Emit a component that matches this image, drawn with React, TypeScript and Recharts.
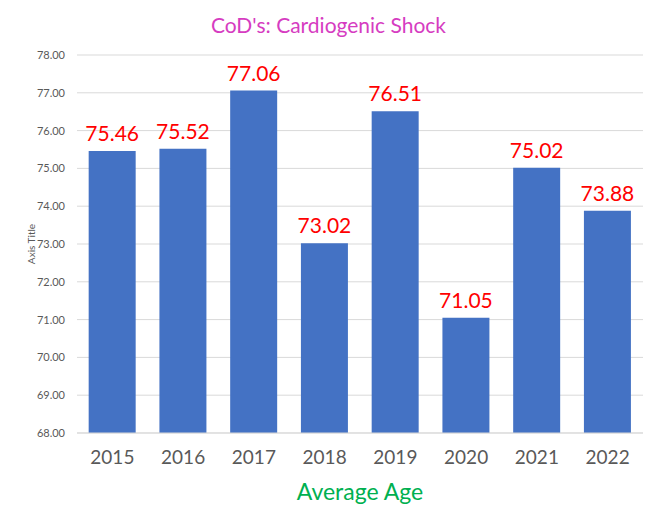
import React from "react";
import { BarChart, Bar, XAxis, YAxis, CartesianGrid, LabelList, Label } from "recharts";

// values
const years = ["2015", "2016", "2017", "2018", "2019", "2020", "2021", "2022"];
const avgAge = [75.46, 75.52, 77.06, 73.02, 76.51, 71.05, 75.02, 73.88];
const yTicks = [68, 69, 70, 71, 72, 73, 74, 75, 76, 77, 78];

const data = years.map((year, i) => ({ year, value: avgAge[i] }));

const FONT = "Lato, 'Noto Sans', sans-serif";
const GREY = "#595959";

const App: React.FC = () => {
    return (
        <div
            style={{
                margin: -8,
                width: 657,
                height: 526,
                boxSizing: "border-box",
                border: "1px solid #d9d9d9",
                position: "relative",
                background: "#fff",
                fontFamily: FONT,
            }}
        >
            <div
                style={{
                    position: "absolute",
                    top: 11,
                    left: 0,
                    width: "100%",
                    textAlign: "center",
                    fontSize: 21,
                    lineHeight: "26px",
                    color: "#D63CC1",
                }}
            >
                CoD's: Cardiogenic Shock
            </div>

            <BarChart
                width={655}
                height={524}
                data={data}
                margin={{ top: 54, right: 13, bottom: 0, left: 0 }}
                barCategoryGap="16.5%"
            >
                <CartesianGrid vertical={false} stroke="#d9d9d9" />
                <XAxis
                    dataKey="year"
                    height={92}
                    axisLine={{ stroke: "#d9d9d9" }}
                    tickLine={false}
                    tickMargin={12}
                    tick={{ fill: GREY, fontSize: 19, fontFamily: FONT }}
                >
                    <Label
                        content={({ viewBox }: any) => (
                            <text
                                x={viewBox.x + viewBox.width / 2}
                                y={viewBox.y + 67}
                                textAnchor="middle"
                                fill="#00B050"
                                fontSize={23}
                                fontFamily={FONT}
                            >
                                Average Age
                            </text>
                        )}
                    />
                </XAxis>
                <YAxis
                    width={76}
                    domain={[68, 78]}
                    ticks={yTicks}
                    allowDataOverflow
                    axisLine={false}
                    tickLine={false}
                    tickMargin={6}
                    tickFormatter={(v: number) => v.toFixed(2)}
                    tick={{ fill: GREY, fontSize: 11, fontFamily: FONT }}
                >
                    <Label
                        content={({ viewBox }: any) => {
                            const cx = viewBox.x + 30;
                            const cy = viewBox.y + viewBox.height / 2;
                            return (
                                <text
                                    x={cx}
                                    y={cy}
                                    transform={`rotate(-90 ${cx} ${cy})`}
                                    textAnchor="middle"
                                    dominantBaseline="central"
                                    fill={GREY}
                                    fontSize={10}
                                    fontFamily={FONT}
                                >
                                    Axis Title
                                </text>
                            );
                        }}
                    />
                </YAxis>
                <Bar dataKey="value" fill="#4472C4" isAnimationActive={false}>
                    <LabelList
                        dataKey="value"
                        position="top"
                        offset={10}
                        fill="#FF0000"
                        fontSize={21}
                        fontFamily={FONT}
                        formatter={(v: any) => Number(v).toFixed(2)}
                    />
                </Bar>
            </BarChart>
        </div>
    );
};

export default App;
